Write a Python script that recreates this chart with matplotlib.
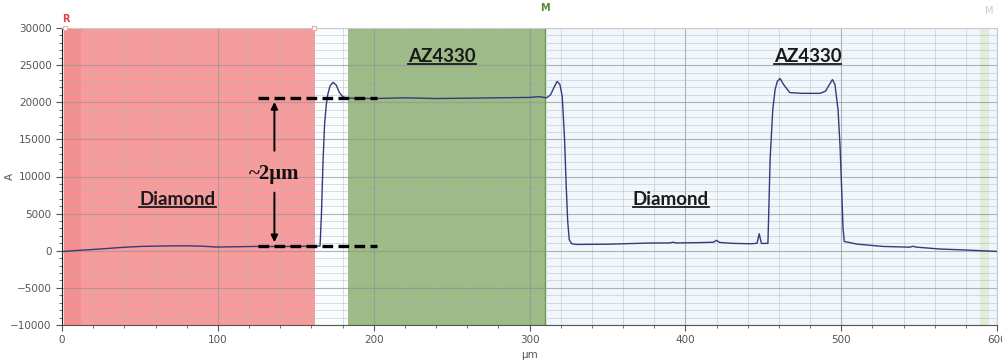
import matplotlib
matplotlib.use("Agg")
import matplotlib.pyplot as plt
from matplotlib.lines import Line2D
from matplotlib.ticker import MultipleLocator

# profile trace (um, Angstrom)
x_um = [0.8, 10, 24, 37, 50, 64, 78, 90, 99, 112, 125, 140, 155, 164, 165.6,
        166.5, 167.5, 168.5, 169.5, 170.5, 172, 174, 176, 178, 180.4, 184,
        200, 220, 240, 260, 280, 300, 306, 311, 313.5, 315.5, 317.7, 319.5,
        321, 322.5, 323.5, 324.5, 325.5, 327, 330, 350, 377, 390, 392, 394,
        410, 418, 420, 422, 430, 441.6, 446, 447.4, 448.8, 450, 453,
        453.5, 454.4, 456.1, 457.6, 459, 460.8, 463, 467, 475, 486.5, 490,
        492.5, 494.4, 496, 498, 499.3, 500.4, 501.2, 502, 510, 527, 544,
        546, 548.5, 563.5, 580, 600]
height_A = [-90, 40, 230, 430, 580, 640, 670, 620, 500, 540, 580, 570, 600, 620, 650,
            5000, 12000, 17000, 19500, 21000, 22200, 22680, 22300, 21300, 20700, 20550,
            20500, 20600, 20500, 20550, 20600, 20650, 20750, 20600, 21000, 21900, 22800, 22400,
            20800, 15000, 9000, 4000, 1500, 950, 850, 880, 1040, 1050, 1150, 1050,
            1100, 1150, 1400, 1120, 1000, 940, 1000, 2290, 1000, 980, 1000,
            5000, 12300, 19000, 21700, 22800, 23200, 22400, 21300, 21200, 21200, 21500,
            22400, 23050, 22400, 19000, 14000, 7800, 3000, 1250, 900, 580, 480,
            600, 480, 230, 100, -90]

# shaded regions (um)
red_region = (1.0, 162.4)
red_strip = (1.0, 12.0)
gap_region = (162.4, 183.6)
green_region = (183.6, 310.0)
end_band = (589.0, 595.0)

step_levels = (20600, 680)   # dashed reference lines (A)
step_span = (126.0, 202.0)
arrow_x = 136.3

labels = ["Diamond", "AZ4330", "Diamond", "AZ4330"]
label_x = [74.1, 243.9, 390.6, 478.5]
label_y = [6870, 26150, 6870, 26150]

fig = plt.figure(figsize=(10.02, 3.6), dpi=100)
ax = fig.add_axes([62 / 1002, 35 / 360, 935 / 1002, 297 / 360])
ax.set_facecolor("#f1f6fb")

ax.axvspan(*red_region, color="#f99b9b", lw=0, zorder=0.8)
ax.axvspan(*red_strip, color="#f58e8e", lw=0, zorder=0.9)
ax.axvspan(*gap_region, color="#fafcfe", lw=0, zorder=0.8)
ax.axvspan(*green_region, color="#9dbb84", lw=0, zorder=0.8)
ax.axvspan(*end_band, color="#e2ecd8", lw=0, zorder=0.8)
ax.axvline(green_region[1], color="#6f9450", lw=1.0, zorder=1.2)

ax.set_xlim(0, 600)
ax.set_ylim(-10000, 30000)
ax.xaxis.set_major_locator(MultipleLocator(100))
ax.xaxis.set_minor_locator(MultipleLocator(20))
ax.yaxis.set_major_locator(MultipleLocator(5000))
ax.yaxis.set_minor_locator(MultipleLocator(1000))
ax.grid(which="major", color="#8f949a", lw=0.8, alpha=0.7)
ax.grid(which="minor", color="#a9b4c0", lw=0.6, alpha=0.5)

ax.plot(x_um, height_A, color="#353a7a", lw=1.0, zorder=3)

# step height markers
for lvl in step_levels:
    ax.plot(step_span, [lvl, lvl], color="black", lw=2.4, ls=(0, (3.2, 1.6)), zorder=4)
ax.annotate("", xy=(arrow_x, step_levels[0] - 200), xytext=(arrow_x, 13100),
            arrowprops=dict(arrowstyle="-|>", color="black", lw=1.4, mutation_scale=10), zorder=4)
ax.annotate("", xy=(arrow_x, step_levels[1] + 100), xytext=(arrow_x, 8200),
            arrowprops=dict(arrowstyle="-|>", color="black", lw=1.4, mutation_scale=10), zorder=4)
ax.text(arrow_x - 0.5, 10400, "~2μm", family="Liberation Serif", fontweight="bold",
        fontsize=15, ha="center", va="center", color="#111111", zorder=5)

texts = []
for s, lx, ly in zip(labels, label_x, label_y):
    texts.append(ax.text(lx, ly, s, family="Lato", fontweight="bold", fontsize=13.5,
                         ha="center", va="center", color="#1a1a1a", zorder=5))

# marker tags above the plot
top = ax.get_xaxis_transform()
ax.text(2.5, 1.015, "R", transform=top, color="#e04040", fontsize=7, fontweight="bold",
        ha="center", va="bottom")
ax.text(310, 1.05, "M", transform=top, color="#5d8a3a", fontsize=7, fontweight="bold",
        ha="center", va="bottom")
ax.text(595, 1.04, "M", transform=top, color="#c8d3c0", fontsize=7, ha="center", va="bottom")
ax.plot([2, 162], [1, 1], transform=top, ls="none", marker="s", ms=3.5,
        mfc="white", mec="#f0a8a8", mew=0.8, clip_on=False, zorder=6)

for side in ("top", "right"):
    ax.spines[side].set_color("#c8ccd2")
ax.spines["left"].set_color("#222222")
ax.spines["bottom"].set_color("#555555")
ax.tick_params(which="both", colors="#555555", labelsize=7.5, labelcolor="#555555")
ax.tick_params(which="major", length=4)
ax.tick_params(which="minor", length=2)
ax.set_xlabel("μm", fontsize=7.5, color="#555555", labelpad=3)
ax.set_ylabel("A", fontsize=7.5, color="#555555")
ax.yaxis.set_label_coords(-47 / 935, 0.5)

# underline the region labels
fig.canvas.draw()
inv = fig.transFigure.inverted()
for t in texts:
    bb = t.get_window_extent()
    (x0, y0), (x1, _) = inv.transform([(bb.x0, bb.y0), (bb.x1, bb.y1)])
    fig.add_artist(Line2D([x0, x1], [y0 + 0.004, y0 + 0.004], color="#1a1a1a", lw=1.3))

fig.savefig("out.png", dpi=100)
